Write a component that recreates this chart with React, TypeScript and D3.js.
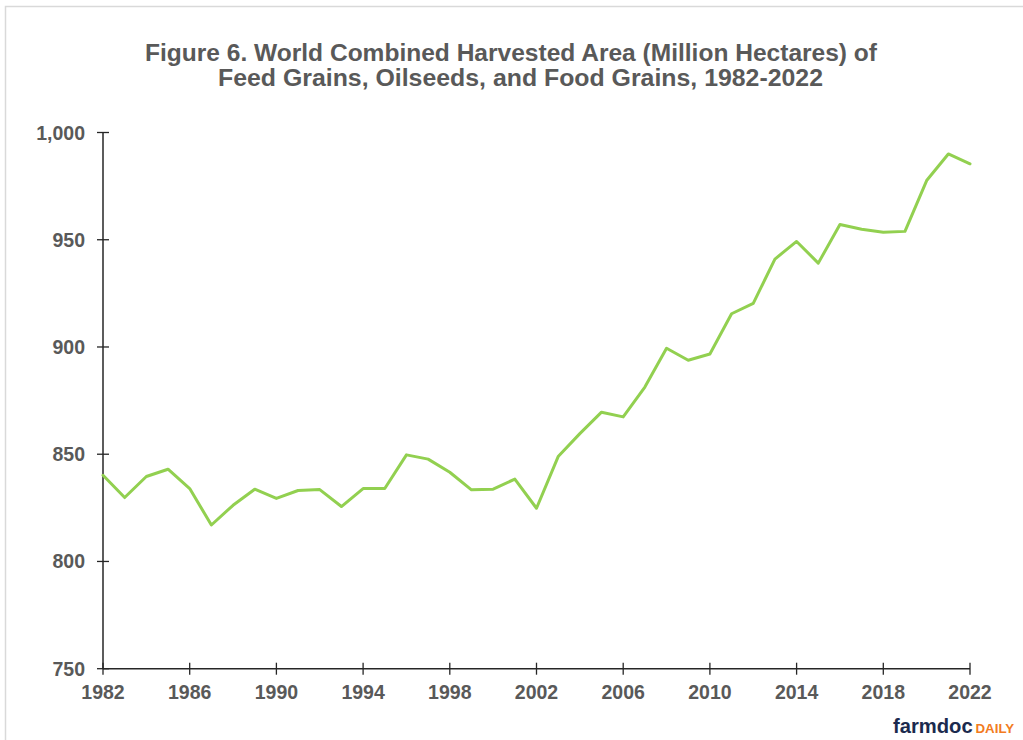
import React from "react";
import * as d3 from "d3";

// Harvested area, million hectares
const years: number[] = [
  1982, 1983, 1984, 1985, 1986, 1987, 1988, 1989, 1990, 1991, 1992, 1993, 1994, 1995,
  1996, 1997, 1998, 1999, 2000, 2001, 2002, 2003, 2004, 2005, 2006, 2007, 2008, 2009,
  2010, 2011, 2012, 2013, 2014, 2015, 2016, 2017, 2018, 2019, 2020, 2021, 2022,
];
const area: number[] = [
  840.2, 829.8, 839.6, 843.0, 834.0, 817.0, 826.2, 833.7, 829.4, 833.1, 833.5, 825.6, 834.0, 834.0,
  849.7, 847.7, 841.6, 833.4, 833.7, 838.4, 824.8, 848.9, 859.6, 869.6, 867.4, 881.3, 899.4, 893.8,
  896.7, 915.5, 920.3, 941.0, 949.2, 939.1, 957.1, 954.9, 953.5, 953.9, 977.6, 990.0, 985.4,
];
const xTicks: number[] = [1982, 1986, 1990, 1994, 1998, 2002, 2006, 2010, 2014, 2018, 2022];
const yTicks: number[] = [750, 800, 850, 900, 950, 1000];
const titleLines: string[] = [
  "Figure 6. World Combined Harvested Area (Million Hectares) of",
  "Feed Grains, Oilseeds, and Food Grains, 1982-2022",
];

const W = 1023;
const H = 740;
const TEXT = "#595959";
const AXIS = "#262626";
const FONT = "'Liberation Sans', Arial, sans-serif";

// title layout: centre x and fitted width per line
const titleCenters = [511, 520.5];
const titleWidths = [732, 605];

export default function App() {
  const x = d3.scaleLinear().domain([1982, 2022]).range([103, 970]);
  const y = d3.scaleLinear().domain([750, 1000]).range([668.7, 132.5]);
  const line = d3
    .line<number>()
    .x((_, i) => x(years[i]))
    .y((d) => y(d));
  const fmt = d3.format(",");

  return (
    <svg
      width={W}
      height={H}
      style={{ position: "absolute", left: 0, top: 0, background: "#fff" }}
      fontFamily={FONT}
    >
      <rect x={5.5} y={6.5} width={W + 10} height={H + 10} fill="#fff" stroke="#d9d9d9" strokeWidth={1.5} />

      {titleLines.map((t, i) => (
        <text
          key={i}
          x={titleCenters[i]}
          y={60.5 + i * 25}
          textAnchor="middle"
          fontSize={23.5}
          fontWeight="bold"
          fill={TEXT}
          textLength={titleWidths[i]}
          lengthAdjust="spacingAndGlyphs"
        >
          {t}
        </text>
      ))}

      {/* y axis */}
      <line x1={x(1982)} x2={x(1982)} y1={y(1000)} y2={y(750)} stroke={AXIS} strokeWidth={1.5} />
      {yTicks.map((v) => (
        <g key={v}>
          <line x1={x(1982) - 6} x2={x(1982) + 6} y1={y(v)} y2={y(v)} stroke={AXIS} strokeWidth={1.3} />
          <text
            x={85}
            y={y(v)}
            dy="0.36em"
            textAnchor="end"
            fontSize={19.5}
            fontWeight="bold"
            fill={TEXT}
          >
            {fmt(v)}
          </text>
        </g>
      ))}

      {/* x axis */}
      <line x1={x(1982)} x2={x(2022)} y1={y(750)} y2={y(750)} stroke={AXIS} strokeWidth={1.5} />
      {xTicks.map((v) => (
        <g key={v}>
          <line x1={x(v)} x2={x(v)} y1={y(750) - 6} y2={y(750) + 6} stroke={AXIS} strokeWidth={1.3} />
          <text
            x={x(v)}
            y={699.3}
            textAnchor="middle"
            fontSize={19.5}
            fontWeight="bold"
            fill={TEXT}
          >
            {v}
          </text>
        </g>
      ))}

      <path
        d={line(area) ?? ""}
        fill="none"
        stroke="#92d050"
        strokeWidth={3}
        strokeLinejoin="round"
        strokeLinecap="round"
      />

      {/* logo */}
      <text x={893} y={733} fontWeight="bold" fontSize={20.2} fill="#1b2a4e">
        farmdoc
      </text>
      <text x={975.5} y={733} fontWeight="bold" fontSize={13.3} fill="#f27b21">
        DAILY
      </text>
    </svg>
  );
}
